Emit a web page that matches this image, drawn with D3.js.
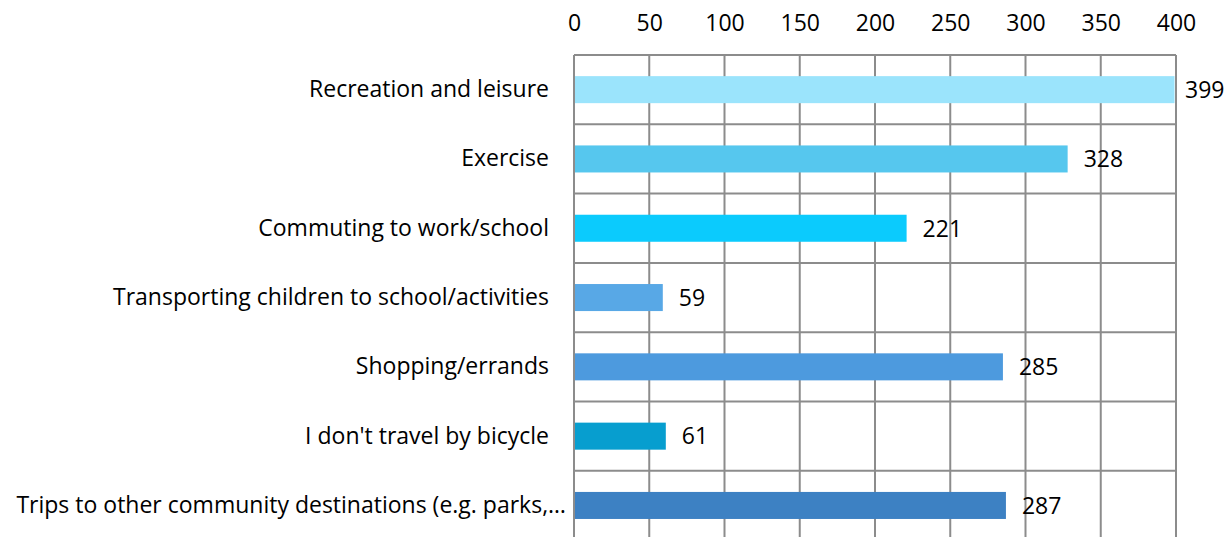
<!DOCTYPE html>
<html>
<head>
<meta charset="utf-8">
<script src="https://cdn.jsdelivr.net/npm/d3@7"></script>
<style>
  body { margin: 0; background: #fff; }
  svg text { font-family: "Open Sans", "Noto Sans", sans-serif; fill: #000; }
</style>
</head>
<body>
<svg id="chart" width="1226" height="537"></svg>
<script>
'use strict'

const categories = [
  'Recreation and leisure',
  'Exercise',
  'Commuting to work/school',
  'Transporting children to school/activities',
  'Shopping/errands',
  "I don't travel by bicycle",
  'Trips to other community destinations (e.g. parks,…'
];
const values = [399, 328, 221, 59, 285, 61, 287];
const barColors = ['#9be4fc', '#56c7ee', '#0bcbfd', '#58a8e6', '#4d9ade', '#079ecf', '#3d81c3'];
const tickValues = [0, 50, 100, 150, 200, 250, 300, 350, 400];

const margin = { top: 55, left: 574 };
const plotW = 1176 - margin.left;
const bandH = 69.3;
const plotH = bandH * categories.length;
const fontSize = 23;

const svg = d3.select('#chart');

const x = d3.scaleLinear().domain([0, 400]).range([0, plotW]);
const y = d3.scaleBand().domain(categories).range([0, plotH]).paddingInner(0.61).paddingOuter(0.305);

const g = svg.append('g').attr('transform', 'translate(' + margin.left + ',' + margin.top + ')');

// vertical grid lines
g.selectAll('line.vgrid')
  .data(tickValues)
  .enter().append('line')
    .attr('class', 'vgrid')
    .attr('x1', d => x(d)).attr('x2', d => x(d))
    .attr('y1', 0).attr('y2', plotH)
    .attr('stroke', '#8c8c8c')
    .attr('stroke-width', 2);

// horizontal lines between categories
g.selectAll('line.hgrid')
  .data(d3.range(categories.length + 1))
  .enter().append('line')
    .attr('class', 'hgrid')
    .attr('x1', 0).attr('x2', plotW)
    .attr('y1', i => i * bandH).attr('y2', i => i * bandH)
    .attr('stroke', '#8c8c8c')
    .attr('stroke-width', 2);

// bars
g.selectAll('rect.bar')
  .data(values)
  .enter().append('rect')
    .attr('class', 'bar')
    .attr('x', 1)
    .attr('y', (d, i) => y(categories[i]))
    .attr('width', d => x(d) - 1)
    .attr('height', y.bandwidth())
    .attr('fill', (d, i) => barColors[i]);

// value labels (kept just inside the right edge like the original)
g.selectAll('text.val')
  .data(values)
  .enter().append('text')
    .attr('class', 'val')
    .attr('x', d => Math.min(x(d) + 16, plotW + 9))
    .attr('y', (d, i) => y(categories[i]) + y.bandwidth() / 2)
    .attr('dy', '0.36em')
    .attr('font-size', fontSize)
    .text(d => d);

// x axis on top
const xAxis = d3.axisTop(x).tickValues(tickValues).tickSize(0).tickPadding(0);
const ax = g.append('g').attr('transform', 'translate(0,-32)').call(xAxis);
ax.select('.domain').remove();
ax.selectAll('text').attr('font-size', fontSize).attr('fill', '#000')
  .attr('dy', '0.36em')
  .style('font-family', '"Open Sans", "Noto Sans", sans-serif');

// category labels
const yAxis = d3.axisLeft(y).tickSize(0).tickPadding(25);
const ay = g.append('g').call(yAxis);
ay.select('.domain').remove();
ay.selectAll('text').attr('font-size', fontSize).attr('fill', '#000')
  .style('font-family', '"Open Sans", "Noto Sans", sans-serif');
// the truncated last label sits a little further right in the original
ay.selectAll('.tick').filter((d, i) => i === categories.length - 1)
  .select('text').attr('x', -8);
</script>
</body>
</html>
